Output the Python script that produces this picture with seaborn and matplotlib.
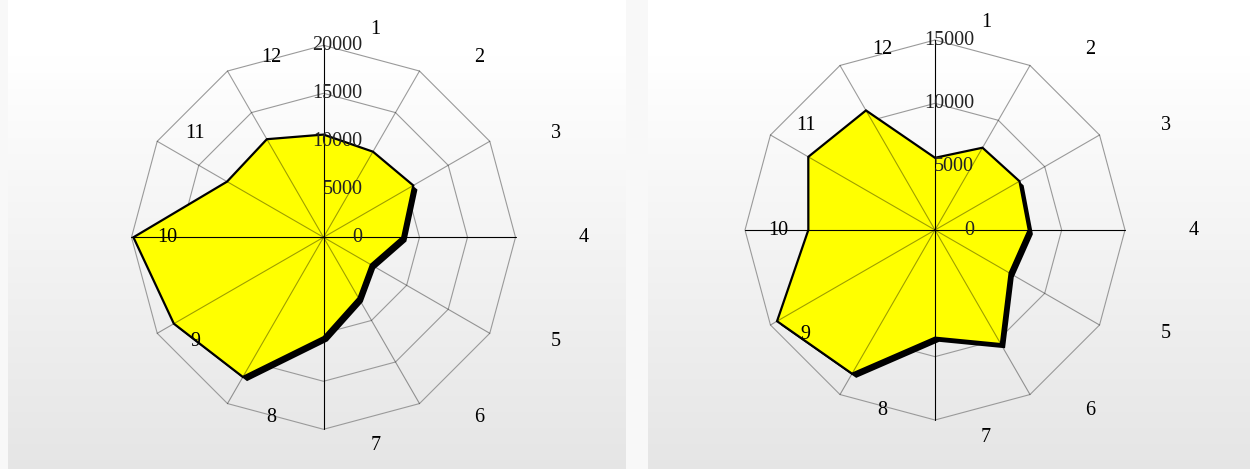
import numpy as np
import matplotlib
matplotlib.use("Agg")
import matplotlib.pyplot as plt
import matplotlib.patheffects as pe
import matplotlib.transforms as mtransforms
import seaborn as sns

# month categories and values
categories = ['1', '2', '3', '4', '5', '6', '7', '8', '9', '10', '11', '12']
left_values = [10700, 10300, 10800, 8200, 5700, 7300, 10400, 16800, 18000, 19800, 11600, 11800]
right_values = [5700, 7500, 7700, 7400, 6800, 10400, 8500, 13100, 14400, 10000, 11550, 10900]
left_ticks = [0, 5000, 10000, 15000, 20000]
right_ticks = [0, 5000, 10000, 15000]

sns.set_style("white")
plt.rcParams['font.family'] = ['Liberation Serif', 'DejaVu Serif']

W, H = 1250, 469
fig = plt.figure(figsize=(W / 100, H / 100), dpi=100)
fig.patch.set_facecolor('#f8f8f8')

# grey gradient panels behind the charts
bg = fig.add_axes([0, 0, 1, 1])
bg.set_axis_off()
g = np.linspace(0, 1, 256)
g = np.clip((g - 0.12) / 0.88, 0, 1)
shade = 1.0 - 0.1 * g
img = np.repeat(shade[:, None], 3, axis=1)[:, None, :]
for x0, x1 in [(8, 626), (648, 1250)]:
    bg.imshow(img, extent=(x0, x1, H, 0), aspect='auto', zorder=0, interpolation='bilinear')
bg.set_xlim(0, W)
bg.set_ylim(H, 0)


def radar(cx, cy, R, values, ticks, label_shift, label_r):
    rmax = ticks[-1]
    ax = fig.add_axes([(cx - R) / W, (H - cy - R) / H, 2 * R / W, 2 * R / H],
                      projection='polar')
    ax.set_theta_zero_location('N')
    ax.set_theta_direction(-1)
    ax.set_ylim(0, rmax)
    ax.set_axis_off()

    n = len(categories)
    theta = np.arange(n) * 2 * np.pi / n
    th_closed = np.append(theta, theta[0])

    # polygon rings
    for t in ticks[1:]:
        ax.plot(th_closed, [t] * (n + 1), color='#9a9a9a', lw=0.8, zorder=1, clip_on=False)

    # filled series with offset black shadow
    vals = np.append(values, values[0])
    ax.fill(th_closed, vals, facecolor='#ffff00', edgecolor='black', lw=1.6, zorder=2,
            clip_on=False,
            path_effects=[pe.withSimplePatchShadow(offset=(3, -3), shadow_rgbFace='black',
                                                   alpha=1.0)])

    # spokes
    for i, th in enumerate(theta):
        if i % 3 == 0:
            ax.plot([th, th], [0, rmax], color='black', lw=0.8, zorder=5, clip_on=False)
        else:
            ax.plot([th, th], [0, rmax], color='black', alpha=0.38, lw=0.8, zorder=4,
                    clip_on=False)

    # value axis labels
    shift = mtransforms.ScaledTranslation(39 / 100, 0, fig.dpi_scale_trans)
    for t in ticks:
        ax.text(0, t, f'{t}', ha='right', va='center', fontsize=14.5, color='#222222',
                transform=ax.transData + shift, zorder=6)

    # category labels
    for lab, th in zip(categories, theta):
        dx = label_shift + label_r * np.sin(th)
        dy = label_r * np.cos(th)
        ax.annotate(lab, xy=(0.5, 0.5), xycoords='axes fraction', xytext=(dx, dy),
                    textcoords='offset pixels', ha='center', va='center', fontsize=14.5,
                    color='black', zorder=6, annotation_clip=False)
    return ax


radar(323.5, 237.3, 192, left_values, left_ticks, 52, 208)
radar(935, 230, 190, right_values, right_ticks, 51, 208)

fig.savefig('out.png', dpi=100)
